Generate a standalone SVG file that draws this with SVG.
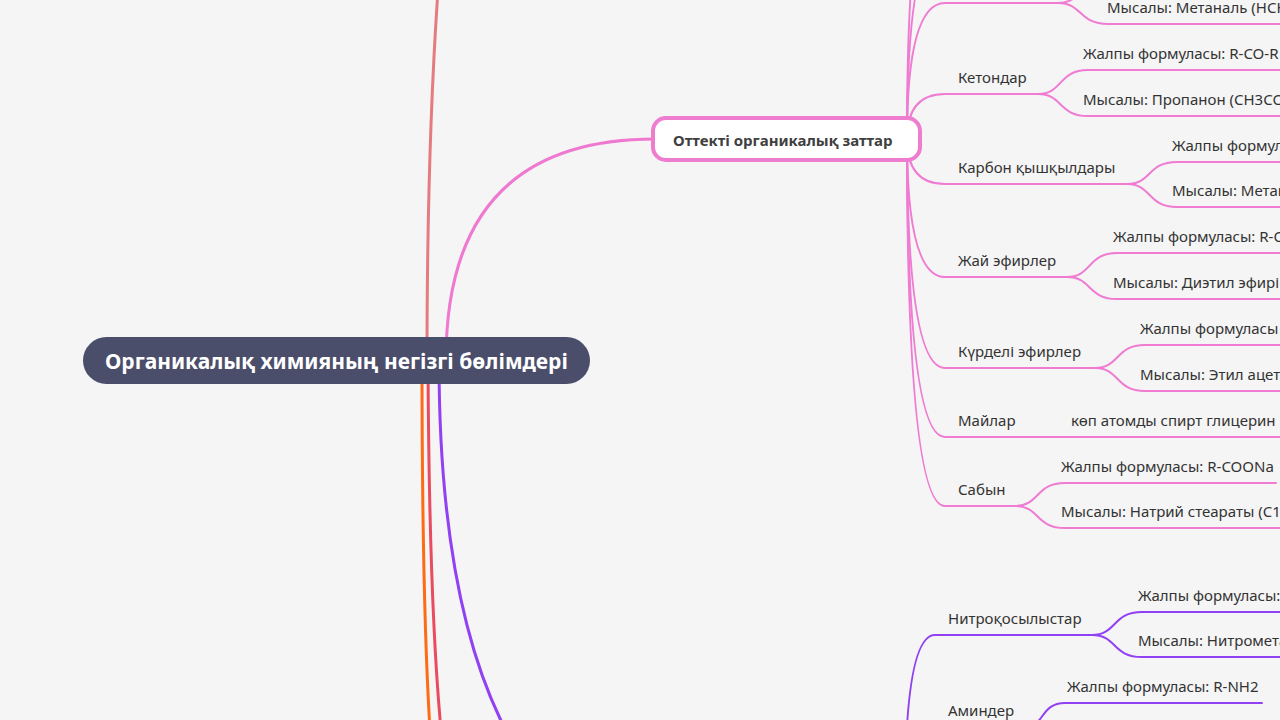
<svg xmlns="http://www.w3.org/2000/svg" width="1280" height="720" viewBox="0 0 1280 720">
<defs>
<style>
.bg{fill:#f5f5f5}
.c{fill:none;stroke-linecap:round}
.pk{stroke:#ef7bd2;stroke-width:2}
.pu{stroke:#9140f3;stroke-width:2}
.t{font-family:"Noto Sans","Open Sans",sans-serif;font-size:15px;fill:#333333}
.root{fill:#4b4e6b}
.rt{font-family:"Noto Sans","Open Sans",sans-serif;font-size:21px;font-weight:bold;fill:#ffffff}
.sub{fill:#ffffff;stroke:#ee7ccf;stroke-width:4}
.st{font-family:"Noto Sans","Open Sans",sans-serif;font-size:15px;font-weight:bold;fill:#404040}
</style>
</defs>
<rect class="bg" x="0" y="0" width="1280" height="720"/>
<g id="connectors">
<path class="c" stroke="#e57b7e" stroke-width="3" d="M427,360 Q427,150 438,-10"/>
<path class="c" stroke="#ef78d1" stroke-width="3" d="M446,360 Q446,139 655,139"/>
<path class="c" stroke="#ff6a14" stroke-width="3" d="M422,360 Q422,600 430,730"/>
<path class="c" stroke="#e94b5f" stroke-width="3" d="M428,360 Q429,600 441,730"/>
<path class="c" stroke="#9140f3" stroke-width="3" d="M439,360 Q439,880 750,880"/>
<g class="c pk">
<path d="M907,139 Q907,-140 945,-140"/>
<path d="M907,139 Q907,-60 945,-60"/>
<path d="M907,139 Q907,3 945,3 H1058"/>
<path d="M1058,3 C1083,3 1078,-20 1108,-20 H1290"/>
<path d="M1058,3 C1083,3 1078,24 1108,24 H1290"/>
<path d="M907,139 Q907,94 945,94 H1038"/>
<path d="M1038,94 C1063,94 1058,70 1088,70 H1290"/>
<path d="M1038,94 C1063,94 1058,116 1088,116 H1290"/>
<path d="M907,139 Q907,184 945,184 H1127"/>
<path d="M1127,184 C1152,184 1147,162 1177,162 H1290"/>
<path d="M1127,184 C1152,184 1147,207 1177,207 H1290"/>
<path d="M907,139 Q907,277 945,277 H1067"/>
<path d="M1067,277 C1092,277 1087,253 1117,253 H1290"/>
<path d="M1067,277 C1092,277 1087,299 1117,299 H1290"/>
<path d="M907,139 Q907,368 945,368 H1095"/>
<path d="M1095,368 C1120,368 1115,345 1145,345 H1290"/>
<path d="M1095,368 C1120,368 1115,391 1145,391 H1290"/>
<path d="M907,139 Q907,437 945,437 H1290"/>
<path d="M907,139 Q907,506 945,506 H1015"/>
<path d="M1015,506 C1040,506 1035,483 1065,483 H1276"/>
<path d="M1015,506 C1040,506 1035,528 1065,528 H1290"/>
</g>
<g class="c pu">
<path d="M905,800 Q905,635 935,635 H1092"/>
<path d="M1092,635 C1117,635 1112,612 1142,612 H1290"/>
<path d="M1092,635 C1117,635 1112,657 1142,657 H1290"/>
<path d="M905,800 Q905,727 935,727 H1025"/>
<path d="M1025,727 C1045,727 1040,703 1065,703 H1262"/>
<path d="M1025,727 C1045,727 1040,750 1065,750 H1290"/>
</g>
</g>
<g id="root">
<rect class="root" x="83" y="337" width="507" height="47" rx="23.5"/>
<text class="rt" x="336.5" y="368.5" text-anchor="middle">Органикалық химияның негізгі бөлімдері</text>
</g>
<g id="oxygen">
<rect class="sub" x="653" y="118" width="267" height="42" rx="13"/>
<text class="st" x="673" y="146">Оттекті органикалық заттар</text>
</g>
<g id="aldehyde-example"><text class="t" x="1107" y="13">Мысалы: Метаналь (HCH</text></g>
<g id="ketones">
<text class="t" x="958" y="83">Кетондар</text>
<text class="t" x="1083" y="59">Жалпы формуласы: R-CO-R</text>
<text class="t" x="1083" y="105">Мысалы: Пропанон (CH3CO</text>
</g>
<g id="carboxylic">
<text class="t" x="958" y="173">Карбон қышқылдары</text>
<text class="t" x="1172" y="151">Жалпы формул</text>
<text class="t" x="1172" y="196">Мысалы: Метан</text>
</g>
<g id="ethers">
<text class="t" x="958" y="266">Жай эфирлер</text>
<text class="t" x="1113" y="242">Жалпы формуласы: R-O</text>
<text class="t" x="1113" y="288">Мысалы: Диэтил эфирі</text>
</g>
<g id="esters">
<text class="t" x="958" y="357">Күрделі эфирлер</text>
<text class="t" x="1140" y="334">Жалпы формуласы</text>
<text class="t" x="1140" y="380">Мысалы: Этил ацет</text>
</g>
<g id="fats">
<text class="t" x="958" y="426">Майлар</text>
<text class="t" x="1071" y="426">көп атомды спирт глицерин</text>
</g>
<g id="soap">
<text class="t" x="958" y="495">Сабын</text>
<text class="t" x="1061" y="472">Жалпы формуласы: R-COONa</text>
<text class="t" x="1061" y="517">Мысалы: Натрий стеараты (C1</text>
</g>
<g id="nitro">
<text class="t" x="948" y="624">Нитроқосылыстар</text>
<text class="t" x="1138" y="601">Жалпы формуласы:</text>
<text class="t" x="1138" y="646">Мысалы: Нитромета</text>
</g>
<g id="amines">
<text class="t" x="948" y="716">Аминдер</text>
<text class="t" x="1067" y="692">Жалпы формуласы: R-NH2</text>
</g>
</svg>
